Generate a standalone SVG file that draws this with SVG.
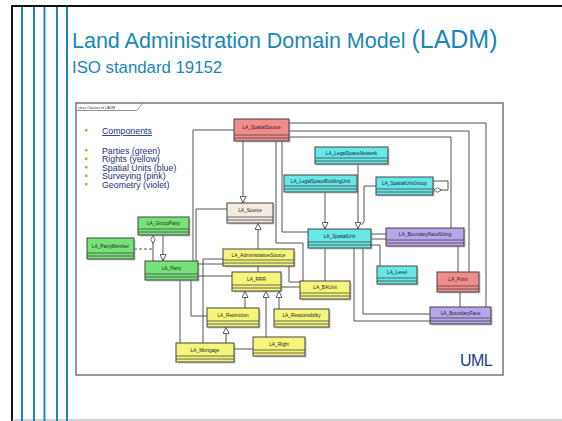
<svg xmlns="http://www.w3.org/2000/svg" width="562" height="421" viewBox="0 0 562 421">
  <style>
    .slide { fill: none; stroke: #111; stroke-width: 2; }
    .stripe { stroke: #1a86b5; stroke-width: 2; }
    .title { font-family: "Liberation Sans", Arial, sans-serif; fill: #1987b8; }
    .legend { font-family: "Liberation Sans", Arial, sans-serif; font-size: 8.8px; fill: #22307a; }
    .bullet { fill: #8dc63f; }
    .frame { fill: #fff; stroke: #777; stroke-width: 1.5; }
    .tabtext { font-family: "Liberation Sans", Arial, sans-serif; font-size: 3.6px; fill: #333; }
    .shadow { fill: #999; opacity: 0.55; }
    .box { stroke: #444; stroke-width: 1; }
    .comp { stroke: #444; stroke-width: 0.8; }
    .name { font-family: "Liberation Sans", Arial, sans-serif; font-size: 4.8px; fill: #222; text-anchor: middle; }
    .pink { fill: #f28b8b; }
    .cyan { fill: #66e8e8; }
    .beige { fill: #f4ebdf; }
    .green { fill: #77e277; }
    .yellow { fill: #f5f57c; }
    .violet { fill: #b9a5ec; }
    .conn { fill: none; stroke: #555; stroke-width: 1; }
    .dash { stroke-dasharray: 3 2; }
    .gen { marker-end: url(#hollowTri); }
    .agg { marker-start: url(#hollowDiamond); }
    .uml { font-family: "Liberation Sans", Arial, sans-serif; font-size: 16px; fill: #1b3a8c; letter-spacing: -0.6px; }
  </style>
  <defs>
    <marker id="hollowTri" viewBox="0 0 8 8" refX="8" refY="4" markerWidth="7" markerHeight="7" markerUnits="userSpaceOnUse" orient="auto">
      <path d="M0.5,0.5 L7.5,4 L0.5,7.5 Z" fill="#fff" stroke="#444" stroke-width="1"/>
    </marker>
    <marker id="hollowDiamond" viewBox="0 0 10 6" refX="0" refY="3" markerWidth="9" markerHeight="5.5" markerUnits="userSpaceOnUse" orient="auto">
      <path d="M0.5,3 L5,0.5 L9.5,3 L5,5.5 Z" fill="#fff" stroke="#444" stroke-width="0.9"/>
    </marker>
  </defs>

  <!-- slide background and border -->
  <rect x="0" y="0" width="562" height="421" fill="#fff"/>
  <path class="slide" d="M12,421 V6 H562"/>
  <line x1="12" y1="420" x2="562" y2="420" stroke="#aaa" stroke-width="1"/>
  <g id="stripes">
    <line class="stripe" x1="22" y1="7" x2="22" y2="421"/>
    <line class="stripe" x1="34" y1="7" x2="34" y2="421"/>
    <line class="stripe" x1="44.5" y1="7" x2="44.5" y2="421"/>
    <line class="stripe" x1="57" y1="7" x2="57" y2="421"/>
    <line class="stripe" x1="67" y1="7" x2="67" y2="421"/>
  </g>

  <!-- headings -->
  <text class="title" x="72" y="48" font-size="21.5">Land Administration Domain Model <tspan font-size="25">(LADM)</tspan></text>
  <text class="title" x="72" y="73" font-size="16.8">ISO standard 19152</text>

  <!-- diagram frame -->
  <rect class="frame" x="76" y="103" width="427" height="272"/>
  <path d="M76,110.5 H137 L142,104 V103" fill="none" stroke="#777" stroke-width="0.8"/>
  <text class="tabtext" x="78" y="108.5">class Classes of LADM</text>

  <!-- legend -->
  <g id="legend">
    <rect class="bullet" x="85" y="129" width="2.5" height="2.5"/>
    <text class="legend" x="102" y="134" text-decoration="underline">Components</text>
    <rect class="bullet" x="85" y="149" width="2.5" height="2.5"/>
    <rect class="bullet" x="85" y="157.5" width="2.5" height="2.5"/>
    <rect class="bullet" x="85" y="166" width="2.5" height="2.5"/>
    <rect class="bullet" x="85" y="174.5" width="2.5" height="2.5"/>
    <rect class="bullet" x="85" y="183" width="2.5" height="2.5"/>
    <text class="legend" x="102" y="153.5">Parties (green)</text>
    <text class="legend" x="102" y="162">Rights (yellow)</text>
    <text class="legend" x="102" y="170.5">Spatial Units (blue)</text>
    <text class="legend" x="102" y="179">Surveying (pink)</text>
    <text class="legend" x="102" y="187.5">Geometry (violet)</text>
  </g>

  <!-- connectors -->
  <g id="connectors">
    <path class="conn" d="M234,130 H193 V261"/>
    <path class="conn gen" d="M243,141 V203"/>
    <path class="conn" d="M276,141 V243 H303 V281"/>
    <path class="conn" d="M282,141 V232 H308"/>
    <path class="conn" d="M289,123 H486 V307"/>
    <path class="conn" d="M289,131 H469 V272"/>
    <path class="conn" d="M289,137 H451 V228"/>
    <path class="conn gen" d="M358,164 V229"/>
    <path class="conn" d="M376,186 H364 V222 L361.5,225"/>
    <path class="conn gen" d="M325,192 V229"/>
    <path class="conn agg" d="M433,190 H448 V181 H433"/>
    <path class="conn" d="M371,234 H386"/>
    <path class="conn" d="M371,239 H386"/>
    <path class="conn" d="M371,245 H380 V266"/>
    <path class="conn" d="M363,248 V314 H430"/>
    <path class="conn" d="M354,248 V321 H430"/>
    <path class="conn" d="M458,246 V272"/>
    <path class="conn" d="M460,292 V307"/>
    <path class="conn" d="M325,248 V281"/>
    <path class="conn" d="M227,209 H196 V261"/>
    <path class="conn gen" d="M258,249 V223"/>
    <path class="conn" d="M198,264 H223"/>
    <path class="conn" d="M223,259 H203 V343"/>
    <path class="conn" d="M289,266 V282 H300"/>
    <path class="conn" d="M258,266 V272"/>
    <path class="conn" d="M198,276 H232"/>
    <path class="conn" d="M281,287 H300"/>
    <path class="conn gen" d="M245,308 V291"/>
    <path class="conn gen" d="M279,309 V291"/>
    <path class="conn gen" d="M266,337 V291"/>
    <path class="conn gen" d="M226,343 V327"/>
    <path class="conn" d="M234,349 H253"/>
    <path class="conn" d="M180,280 V343"/>
    <path class="conn" d="M191,280 V316 H207"/>
    <path class="conn agg" d="M153,235 V261"/>
    <path class="conn gen" d="M163,235 V261"/>
    <path class="conn dash" d="M134,249 H153"/>
  </g>

  <!-- classes -->
  <g id="LA_SpatialSource">
    <rect class="shadow" x="235.5" y="120.5" width="55" height="22"/>
    <rect class="box pink" x="234" y="119" width="55" height="22"/>
    <path class="comp" d="M234,135 H289 M234,138 H289"/>
    <text class="name" x="261.5" y="129">LA_SpatialSource</text>
  </g>
  <g id="LA_LegalSpaceNetwork">
    <rect class="shadow" x="316.5" y="148.5" width="73" height="17"/>
    <rect class="box cyan" x="315" y="147" width="73" height="17"/>
    <path class="comp" d="M315,158 H388 M315,161 H388"/>
    <text class="name" x="351.5" y="154.5">LA_LegalSpaceNetwork</text>
  </g>
  <g id="LA_LegalSpaceBuildingUnit">
    <rect class="shadow" x="285.5" y="176.5" width="73" height="17"/>
    <rect class="box cyan" x="284" y="175" width="73" height="17"/>
    <path class="comp" d="M284,186 H357 M284,189 H357"/>
    <text class="name" x="320.5" y="182.5">LA_LegalSpaceBuildingUnit</text>
  </g>
  <g id="LA_SpatialUnitGroup">
    <rect class="shadow" x="377.5" y="178.5" width="57" height="18"/>
    <rect class="box cyan" x="376" y="177" width="57" height="18"/>
    <path class="comp" d="M376,189 H433 M376,192 H433"/>
    <text class="name" x="404.5" y="185">LA_SpatialUnitGroup</text>
  </g>
  <g id="LA_Source">
    <rect class="shadow" x="228.5" y="204.5" width="46" height="20"/>
    <rect class="box beige" x="227" y="203" width="46" height="20"/>
    <path class="comp" d="M227,217 H273 M227,220 H273"/>
    <text class="name" x="250" y="212">LA_Source</text>
  </g>
  <g id="LA_GroupParty">
    <rect class="shadow" x="139.5" y="218.5" width="51" height="18"/>
    <rect class="box green" x="138" y="217" width="51" height="18"/>
    <path class="comp" d="M138,229 H189 M138,232 H189"/>
    <text class="name" x="163.5" y="225">LA_GroupParty</text>
  </g>
  <g id="LA_PartyMember">
    <rect class="shadow" x="88.5" y="239.5" width="47" height="21"/>
    <rect class="box green" x="87" y="238" width="47" height="21"/>
    <path class="comp" d="M87,253 H134 M87,256 H134"/>
    <text class="name" x="110.5" y="248">LA_PartyMember</text>
  </g>
  <g id="LA_Party">
    <rect class="shadow" x="146.5" y="262.5" width="53" height="19"/>
    <rect class="box green" x="145" y="261" width="53" height="19"/>
    <path class="comp" d="M145,274 H198 M145,277 H198"/>
    <text class="name" x="171.5" y="269.5">LA_Party</text>
  </g>
  <g id="LA_SpatialUnit">
    <rect class="shadow" x="309.5" y="230.5" width="63" height="19"/>
    <rect class="box cyan" x="308" y="229" width="63" height="19"/>
    <path class="comp" d="M308,242 H371 M308,245 H371"/>
    <text class="name" x="339.5" y="237.5">LA_SpatialUnit</text>
  </g>
  <g id="LA_BoundaryFaceString">
    <rect class="shadow" x="387.5" y="229.5" width="78" height="18"/>
    <rect class="box violet" x="386" y="228" width="78" height="18"/>
    <path class="comp" d="M386,240 H464 M386,243 H464"/>
    <text class="name" x="425" y="236">LA_BoundaryFaceString</text>
  </g>
  <g id="LA_AdministrativeSource">
    <rect class="shadow" x="224.5" y="250.5" width="71" height="17"/>
    <rect class="box yellow" x="223" y="249" width="71" height="17"/>
    <path class="comp" d="M223,260 H294 M223,263 H294"/>
    <text class="name" x="258.5" y="256.5">LA_AdministrativeSource</text>
  </g>
  <g id="LA_RRR">
    <rect class="shadow" x="233.5" y="273.5" width="49" height="19"/>
    <rect class="box yellow" x="232" y="272" width="49" height="19"/>
    <path class="comp" d="M232,285 H281 M232,288 H281"/>
    <text class="name" x="256.5" y="280.5">LA_RRR</text>
  </g>
  <g id="LA_BAUnit">
    <rect class="shadow" x="301.5" y="282.5" width="50" height="18"/>
    <rect class="box yellow" x="300" y="281" width="50" height="18"/>
    <path class="comp" d="M300,293 H350 M300,296 H350"/>
    <text class="name" x="325" y="289">LA_BAUnit</text>
  </g>
  <g id="LA_Level">
    <rect class="shadow" x="378.5" y="267.5" width="40" height="18"/>
    <rect class="box cyan" x="377" y="266" width="40" height="18"/>
    <path class="comp" d="M377,278 H417 M377,281 H417"/>
    <text class="name" x="397" y="274">LA_Level</text>
  </g>
  <g id="LA_Point">
    <rect class="shadow" x="438.5" y="273.5" width="42" height="20"/>
    <rect class="box pink" x="437" y="272" width="42" height="20"/>
    <path class="comp" d="M437,286 H479 M437,289 H479"/>
    <text class="name" x="458" y="281">LA_Point</text>
  </g>
  <g id="LA_Restriction">
    <rect class="shadow" x="208.5" y="309.5" width="52" height="19"/>
    <rect class="box yellow" x="207" y="308" width="52" height="19"/>
    <path class="comp" d="M207,321 H259 M207,324 H259"/>
    <text class="name" x="233" y="316.5">LA_Restriction</text>
  </g>
  <g id="LA_Responsibility">
    <rect class="shadow" x="275.5" y="310.5" width="55" height="18"/>
    <rect class="box yellow" x="274" y="309" width="55" height="18"/>
    <path class="comp" d="M274,321 H329 M274,324 H329"/>
    <text class="name" x="301.5" y="317">LA_Responsibility</text>
  </g>
  <g id="LA_BoundaryFace">
    <rect class="shadow" x="431.5" y="308.5" width="61" height="17"/>
    <rect class="box violet" x="430" y="307" width="61" height="17"/>
    <path class="comp" d="M430,318 H491 M430,321 H491"/>
    <text class="name" x="460.5" y="314.5">LA_BoundaryFace</text>
  </g>
  <g id="LA_Mortgage">
    <rect class="shadow" x="177.5" y="344.5" width="58" height="19"/>
    <rect class="box yellow" x="176" y="343" width="58" height="19"/>
    <path class="comp" d="M176,356 H234 M176,359 H234"/>
    <text class="name" x="205" y="351.5">LA_Mortgage</text>
  </g>
  <g id="LA_Right">
    <rect class="shadow" x="254.5" y="338.5" width="52" height="19"/>
    <rect class="box yellow" x="253" y="337" width="52" height="19"/>
    <path class="comp" d="M253,350 H305 M253,353 H305"/>
    <text class="name" x="279" y="345.5">LA_Right</text>
  </g>

  <text class="uml" x="460" y="365.5">UML</text>
</svg>
